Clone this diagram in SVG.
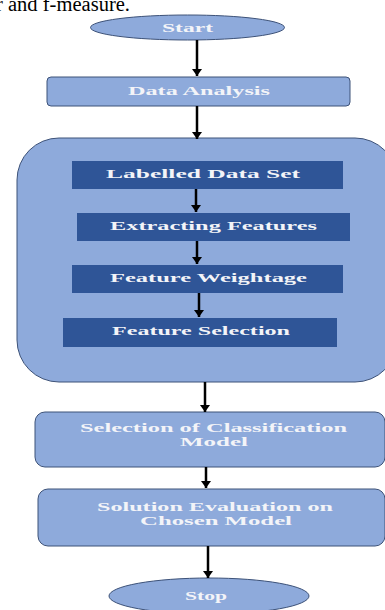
<svg xmlns="http://www.w3.org/2000/svg" width="385" height="610" viewBox="0 0 385 610">
  <defs>
    <style>
      .light { fill: #8eaadb; stroke: #3d5278; stroke-width: 1; }
      .dark { fill: #2f5597; }
      .lbl { font-family: "Liberation Serif", "Times New Roman", serif; font-weight: bold; fill: #f3f4f8; text-anchor: start; }
      .conn { stroke: #000; stroke-width: 2.5; fill: none; }
    </style>
    <!-- arrowhead: tip sits on the end of the line -->
    <marker id="head" markerUnits="userSpaceOnUse" markerWidth="7" markerHeight="10" refX="7" refY="5" orient="auto" viewBox="0 0 7 10">
      <path d="M0,0 L7,5 L0,10 Z" fill="#000"/>
    </marker>
  </defs>

  <rect width="385" height="610" fill="#ffffff"/>

  <!-- caption fragment above the chart -->
  <text x="-4" y="11" font-family="Liberation Serif, serif" font-size="20" fill="#000" textLength="134" lengthAdjust="spacingAndGlyphs">r and f-measure.</text>

  <g id="start">
    <ellipse class="light" cx="187.5" cy="27.5" rx="97" ry="12.5"/>
    <text class="lbl" x="162" y="32" font-size="12" textLength="51" lengthAdjust="spacingAndGlyphs">Start</text>
  </g>

  <g id="data-analysis">
    <rect class="light" x="47" y="77" width="303" height="29" rx="4"/>
    <text class="lbl" x="128" y="95" font-size="12" textLength="142" lengthAdjust="spacingAndGlyphs">Data Analysis</text>
  </g>

  <g id="feature-block">
    <rect class="light" x="17" y="138" width="380" height="244" rx="42"/>
  </g>

  <g id="labelled-data-set">
    <rect class="dark" x="72" y="161" width="271" height="28"/>
    <text class="lbl" x="106" y="178" font-size="13" textLength="194" lengthAdjust="spacingAndGlyphs">Labelled Data Set</text>
  </g>

  <g id="extracting-features">
    <rect class="dark" x="77" y="213" width="273" height="28"/>
    <text class="lbl" x="110" y="230" font-size="13" textLength="207" lengthAdjust="spacingAndGlyphs">Extracting Features</text>
  </g>

  <g id="feature-weightage">
    <rect class="dark" x="72" y="265" width="271" height="28"/>
    <text class="lbl" x="110" y="282" font-size="13" textLength="197" lengthAdjust="spacingAndGlyphs">Feature Weightage</text>
  </g>

  <g id="feature-selection">
    <rect class="dark" x="63" y="318" width="274" height="29"/>
    <text class="lbl" x="112" y="335" font-size="13" textLength="178" lengthAdjust="spacingAndGlyphs">Feature Selection</text>
  </g>

  <g id="classification-model">
    <rect class="light" x="35" y="412" width="350" height="55" rx="10"/>
    <text class="lbl" x="80" y="432" font-size="12" textLength="267" lengthAdjust="spacingAndGlyphs">Selection of Classification</text>
    <text class="lbl" x="180" y="446" font-size="12" textLength="68" lengthAdjust="spacingAndGlyphs">Model</text>
  </g>

  <g id="solution-evaluation">
    <rect class="light" x="38" y="489" width="347" height="57" rx="10"/>
    <text class="lbl" x="97" y="511" font-size="12" textLength="236" lengthAdjust="spacingAndGlyphs">Solution Evaluation on</text>
    <text class="lbl" x="140" y="525" font-size="12" textLength="152" lengthAdjust="spacingAndGlyphs">Chosen Model</text>
  </g>

  <g id="stop">
    <ellipse class="light" cx="209" cy="596" rx="100" ry="18"/>
    <text class="lbl" x="185" y="600" font-size="12" textLength="42" lengthAdjust="spacingAndGlyphs">Stop</text>
  </g>

  <g id="connectors">
    <line class="conn" x1="197" y1="40" x2="197" y2="76" marker-end="url(#head)"/>
    <line class="conn" x1="197" y1="106" x2="197" y2="139" marker-end="url(#head)"/>
    <line class="conn" x1="196" y1="189" x2="196" y2="212" marker-end="url(#head)"/>
    <line class="conn" x1="197" y1="241" x2="197" y2="264" marker-end="url(#head)"/>
    <line class="conn" x1="199" y1="293" x2="199" y2="317" marker-end="url(#head)"/>
    <line class="conn" x1="205" y1="382" x2="205" y2="412" marker-end="url(#head)"/>
    <line class="conn" x1="206" y1="467" x2="206" y2="488" marker-end="url(#head)"/>
    <line class="conn" x1="208" y1="546" x2="208" y2="578" marker-end="url(#head)"/>
  </g>
</svg>
